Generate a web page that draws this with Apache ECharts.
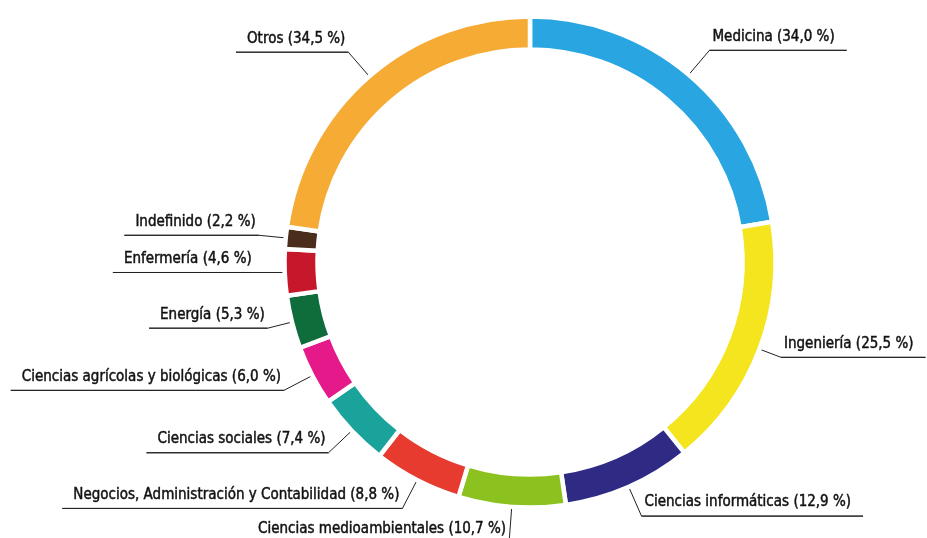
<!DOCTYPE html>
<html>
<head>
<meta charset="utf-8">
<script src="https://cdn.jsdelivr.net/npm/echarts@6/dist/echarts.min.js"></script>
<style>
  html, body { margin: 0; padding: 0; background: #ffffff; }
  #chart { width: 927px; height: 538px; }
</style>
</head>
<body>
<div id="chart"></div>
<script>
// Research areas (clockwise from 12 o'clock) and their shares in percent
const categories = [
  'Medicina',
  'Ingeniería',
  'Ciencias informáticas',
  'Ciencias medioambientales',
  'Negocios, Administración y Contabilidad',
  'Ciencias sociales',
  'Ciencias agrícolas y biológicas',
  'Energía',
  'Enfermería',
  'Indefinido',
  'Otros'
];
const shares = [34.0, 25.5, 12.9, 10.7, 8.8, 7.4, 6.0, 5.3, 4.6, 2.2, 34.5];

// Slice colours, same order as the categories
const sliceColors = [
  '#29a6e1', '#f4e51f', '#2f2a84', '#8cc21f', '#e63b2e', '#1aa39b',
  '#e5198a', '#0e6d3b', '#c7172b', '#4a2e1b', '#f6ab35'
];

// Leader lines: radial part and extra horizontal part, per slice
const leaderRadial = [32, 23, 32, 36, 32, 32, 32, 25, 2, 27, 32];
const leaderFlat = [0, 0, 0, 0, 0, 0, 0, 0, 28, 0, 0];

const FONT = '"Liberation Sans Narrow", "DejaVu Sans Condensed", "Liberation Sans", sans-serif';

// Which side of the ring each label falls on (by the slice's mid angle)
const total = shares.reduce((a, b) => a + b, 0);
const onRight = [];
let acc = 0;
shares.forEach(v => {
  onRight.push((acc + v / 2) / total < 0.5);
  acc += v;
});

function fmt(v) {
  return v.toFixed(1).replace('.', ',');
}

const textStyle = {
  fontFamily: FONT,
  fontSize: 15,
  color: '#111111',
  textBorderColor: '#111111',
  textBorderWidth: 0.45,
  lineHeight: 26
};

const chart = echarts.init(document.getElementById('chart'), null, { renderer: 'canvas' });

chart.setOption({
  animation: false,
  backgroundColor: '#ffffff',
  series: [{
    type: 'pie',
    silent: true,
    center: [530, 262],
    radius: [212.5, 245.5],
    startAngle: 90,
    clockwise: true,
    avoidLabelOverlap: false,
    itemStyle: { borderColor: '#ffffff', borderWidth: 4.5 },
    label: {
      show: true,
      position: 'outside',
      distanceToLabelLine: 0,
      padding: [0, 0, 26, 0],
      formatter: p => {
        const side = onRight[p.dataIndex] ? 'r' : 'l';
        return '{' + side + '|' + p.name + ' (' + fmt(p.value) + ' %)}\n{hr|}';
      },
      rich: {
        r: Object.assign({}, textStyle, { padding: [0, 12, 0, 3] }),
        l: Object.assign({}, textStyle, { padding: [0, 3, 0, 11] }),
        hr: { borderColor: '#222222', borderWidth: 1, width: '100%', height: 0, lineHeight: 1 }
      }
    },
    labelLine: {
      show: true,
      smooth: false,
      lineStyle: { color: '#222222', width: 1 }
    },
    data: categories.map((name, i) => ({
      name: name,
      value: shares[i],
      itemStyle: { color: sliceColors[i] },
      labelLine: { length: leaderRadial[i], length2: leaderFlat[i] }
    }))
  }]
});
</script>
</body>
</html>
